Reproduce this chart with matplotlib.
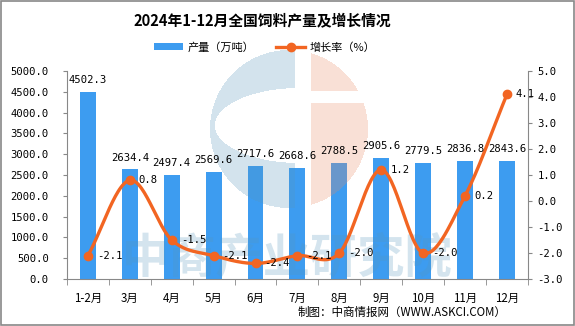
import matplotlib
matplotlib.use("Agg")
import matplotlib.pyplot as plt
import numpy as np
from matplotlib.patches import Rectangle, Patch
from matplotlib.lines import Line2D

plt.rcParams['font.family'] = ['Noto Sans CJK SC', 'DejaVu Sans']

categories = ['1-2月', '3月', '4月', '5月', '6月', '7月', '8月', '9月', '10月', '11月', '12月']
output = [4502.3, 2634.4, 2497.4, 2569.6, 2717.6, 2668.6, 2788.5, 2905.6, 2779.5, 2836.8, 2843.6]
growth = [-2.1, 0.8, -1.5, -2.1, -2.4, -2.1, -2.0, 1.2, -2.0, 0.2, 4.1]
left_ticks = [0, 500, 1000, 1500, 2000, 2500, 3000, 3500, 4000, 4500, 5000]
right_ticks = [-3, -2, -1, 0, 1, 2, 3, 4, 5]

bar_color = '#3d9cf0'
line_color = '#f26522'
num_font = 'DejaVu Sans Mono'
num_size = 7.6

W, H = 575, 326
fig = plt.figure(figsize=(W / 100, H / 100), dpi=100)
fig.patch.set_facecolor('white')
fig.add_artist(Rectangle((0.001, 0.002), 0.997, 0.995, transform=fig.transFigure,
                         fill=False, edgecolor='#888888', lw=1.2))

ax = fig.add_axes([0.1165, 0.144, 0.8015, 0.638], zorder=1)
ax.patch.set_alpha(0)
ax2 = ax.twinx()
ax2.set_zorder(3)
ax2.patch.set_alpha(0)

x = np.arange(len(categories))
ax.bar(x, output, width=0.38, color=bar_color, zorder=2)
ax.set_xlim(-0.5, len(categories) - 0.5)
ax.set_ylim(0, 5000)
ax.set_yticks(left_ticks)
ax.set_yticklabels([f'{v:.1f}' for v in left_ticks], fontsize=num_size, family=num_font)
ax.set_xticks(x)
ax.set_xticklabels(categories, fontsize=8.3)
ax.set_xticks(np.arange(-0.5, len(categories)), minor=True)
ax.tick_params(axis='x', which='major', length=0, pad=9)
ax.tick_params(axis='x', which='minor', length=4, color='#888888')
ax.tick_params(axis='y', length=3, color='#888888', pad=10)
for s in ['top', 'right']:
    ax.spines[s].set_visible(False)
for s in ['left', 'bottom']:
    ax.spines[s].set_color('#888888')

ax2.set_ylim(-3, 5)
ax2.set_yticks(right_ticks)
ax2.set_yticklabels([f'{v:.1f}' for v in right_ticks], fontsize=num_size, family=num_font)
ax2.tick_params(axis='y', length=3, color='#888888', pad=4)
for s in ['top', 'left', 'bottom']:
    ax2.spines[s].set_visible(False)
ax2.spines['right'].set_color('#888888')

# watermark overlay (semi-transparent, between bars and line/labels)
wm = fig.add_axes([0, 0, 1, 1], zorder=2)
wm.set_xlim(0, W); wm.set_ylim(H, 0); wm.axis('off')
yy, xx = np.mgrid[0:H, 0:W] + 0.5
cx, cy, r = 289, 129, 79
disk = (xx - cx) ** 2 + (yy - cy) ** 2 <= r ** 2
inner = ((xx - 300) / 85) ** 2 + ((yy - 125.5) / 37.5) ** 2 <= 1
blue_m = disk & (xx < 295) & ~inner
orange_m = disk & (xx > 311) & ~((yy > 91) & (yy < 103))
img = np.zeros((H, W, 4))
img[blue_m] = [85 / 255, 150 / 255, 188 / 255, 0.26]
img[orange_m] = [232 / 255, 137 / 255, 99 / 255, 0.26]
wm.imshow(img, extent=(0, W, H, 0), interpolation='nearest', aspect='auto')
wt = wm.text(287, 258, '中商产业研究院', fontsize=34, color=(85 / 255, 150 / 255, 188 / 255, 0.25),
             ha='center', va='center', fontweight='bold')
wt.set_clip_box(ax.bbox)
wt.set_clip_on(True)

# bar value labels (drawn on top layer)
for xi, v in zip(x, output):
    ax2.annotate(f'{v:.1f}', xy=(xi, v), xycoords=ax.transData, xytext=(0, 5),
                 textcoords='offset points', ha='center', va='bottom',
                 fontsize=num_size, family=num_font, zorder=5)

# smooth curve (Catmull-Rom)
gx = x.astype(float)
gy = np.array(growth, dtype=float)
px = np.concatenate([[2 * gx[0] - gx[1]], gx, [2 * gx[-1] - gx[-2]]])
py = np.concatenate([[2 * gy[0] - gy[1]], gy, [2 * gy[-1] - gy[-2]]])
sx, sy = [], []
t = np.linspace(0, 1, 30)
for i in range(1, len(px) - 2):
    p0x, p1x, p2x, p3x = px[i - 1:i + 3]
    p0y, p1y, p2y, p3y = py[i - 1:i + 3]
    cxs = 0.5 * ((2 * p1x) + (-p0x + p2x) * t + (2 * p0x - 5 * p1x + 4 * p2x - p3x) * t ** 2 + (-p0x + 3 * p1x - 3 * p2x + p3x) * t ** 3)
    cys = 0.5 * ((2 * p1y) + (-p0y + p2y) * t + (2 * p0y - 5 * p1y + 4 * p2y - p3y) * t ** 2 + (-p0y + 3 * p1y - 3 * p2y + p3y) * t ** 3)
    sx.extend(cxs); sy.extend(cys)
ax2.plot(sx, sy, color=line_color, lw=2.4, zorder=3)
ax2.plot(gx, gy, 'o', color=line_color, ms=6, zorder=4)
for xi, v in zip(gx, gy):
    ax2.annotate(f'{v:.1f}', xy=(xi, v), xytext=(6.5, 0), textcoords='offset points',
                 ha='left', va='center', fontsize=num_size, family=num_font, zorder=5)

fig.text(0.457, 0.935, '2024年1-12月全国饲料产量及增长情况', ha='center', va='center',
         fontsize=10.6, fontweight='bold')

handles = [Patch(facecolor=bar_color, edgecolor='none'),
           Line2D([0], [0], color=line_color, lw=2.4, marker='o', ms=6)]
fig.legend(handles, ['产量（万吨）', '增长率（%）'], loc='center', bbox_to_anchor=(0.46, 0.855),
           ncol=2, frameon=False, fontsize=8, handlelength=2.6, handleheight=0.6,
           columnspacing=2.0, handletextpad=0.4)

fig.text(0.88, 0.043, '制图：中商情报网（WWW.ASKCI.COM）', ha='right', va='center', fontsize=8.3)

fig.savefig('out.png', dpi=100)
